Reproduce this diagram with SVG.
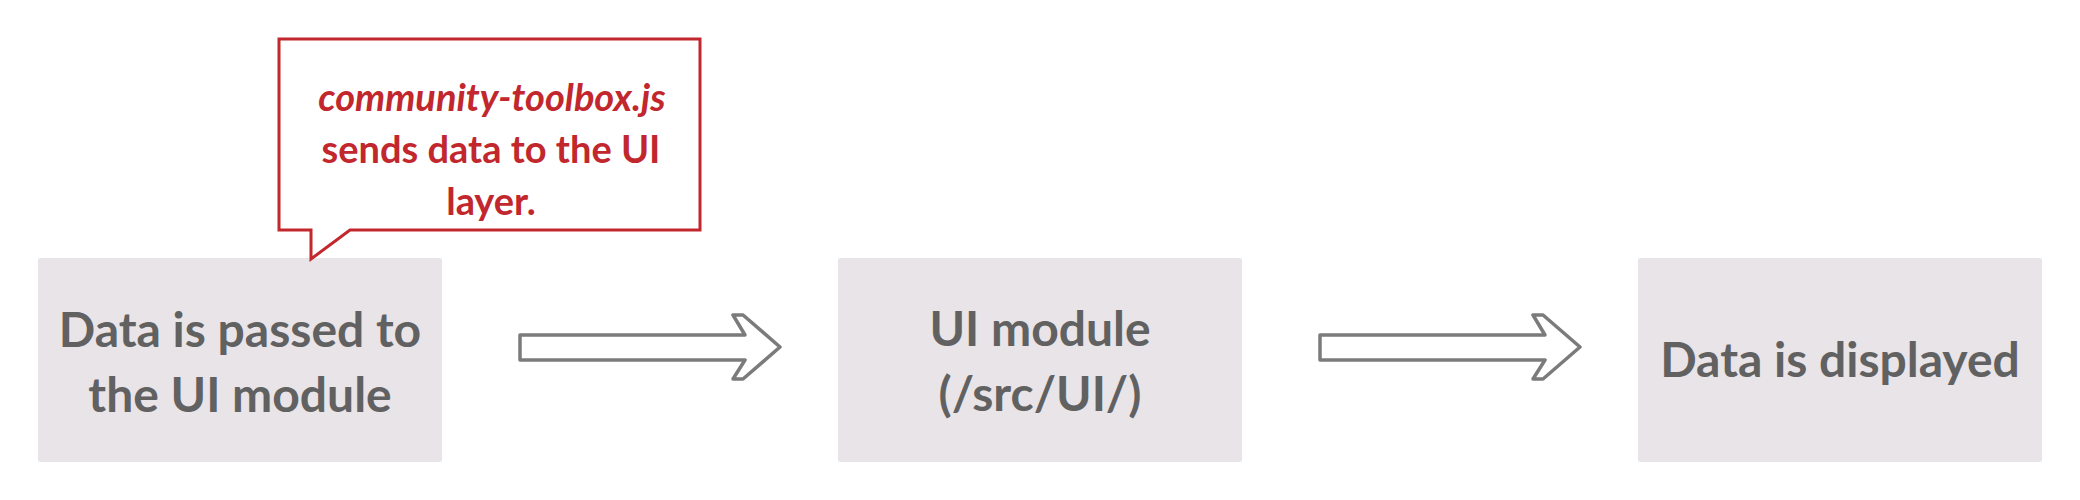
<svg xmlns="http://www.w3.org/2000/svg" width="2080" height="500" viewBox="0 0 2080 500">
  <style>
    .box { fill: #e8e4e8; }
    .lbl { font-family: Lato, "Open Sans", "Liberation Sans", sans-serif; font-weight: 700; font-size: 48px; fill: #616161; text-anchor: middle; }
    .arrow { fill: #ffffff; stroke: #7b7b7b; stroke-width: 3.5; stroke-linejoin: round; }
    .callout { fill: #ffffff; stroke: #c1272d; stroke-width: 3; }
    .ctext { font-family: Lato, "Open Sans", "Liberation Sans", sans-serif; font-weight: 700; font-size: 38px; fill: #c1272d; text-anchor: middle; }
  </style>
  <defs>
    <polygon id="bigArrow" points="520,335 745,335 733,315 743,315 780,347 743,379 733,379 745,360 520,360"/>
  </defs>
  <rect width="2080" height="500" fill="#ffffff"/>
  <g id="connectors">
    <use href="#bigArrow" class="arrow"/>
    <use href="#bigArrow" class="arrow" transform="translate(800,0)"/>
  </g>
  <g id="node-passed">
    <rect class="box" x="38" y="258" width="404" height="204" rx="2"/>
    <text class="lbl" x="240" y="347">Data is passed to</text>
    <text class="lbl" x="240" y="412">the UI module</text>
  </g>
  <g id="node-ui-module">
    <rect class="box" x="838" y="258" width="404" height="204" rx="2"/>
    <text class="lbl" x="1040" y="346">UI module</text>
    <text class="lbl" x="1040" y="411">(/src/UI/)</text>
  </g>
  <g id="node-displayed">
    <rect class="box" x="1638" y="258" width="404" height="204" rx="2"/>
    <text class="lbl" x="1840" y="377">Data is displayed</text>
  </g>
  <g id="callout">
    <path class="callout" d="M279,39 H700 V230 H350 L311,259 V230 H279 Z"/>
    <text class="ctext" x="492" y="111" font-style="italic">community-toolbox.js</text>
    <text class="ctext" x="491" y="163">sends data to the UI</text>
    <text class="ctext" x="491" y="215">layer.</text>
  </g>
</svg>
